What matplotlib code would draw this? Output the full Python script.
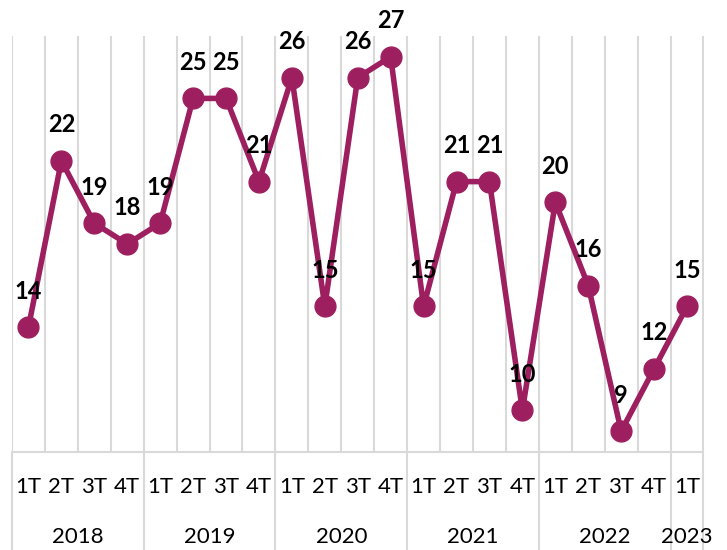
import numpy as np
import matplotlib.pyplot as plt
from matplotlib.transforms import blended_transform_factory

quarters = ["1T", "2T", "3T", "4T"] * 5 + ["1T"]
years = ["2018", "2019", "2020", "2021", "2022", "2023"]
year_sizes = [4, 4, 4, 4, 4, 1]
values = [14, 22, 19, 18, 19, 25, 25, 21, 26, 15, 26, 27, 15, 21, 21, 10, 20, 16, 9, 12, 15]

line_color = "#9e1f5f"
grid_color = "#d9d9d9"

plt.rcParams['font.family'] = ['Lato', 'DejaVu Sans']

fig = plt.figure(figsize=(7.27, 5.5), dpi=100)
ax = fig.add_axes([12 / 727, 98 / 550, (703.5 - 12) / 727, (452 - 36) / 550])

x = np.arange(len(values))
ax.plot(x, values, color=line_color, lw=4, marker="o", ms=15, zorder=3)
for xi, v in zip(x, values):
    ax.annotate(str(v), (xi, v), xytext=(0, 26), textcoords="offset points",
                ha="center", va="center", fontsize=17, fontweight="bold", color="black")

ax.set_xlim(-0.5, len(values) - 0.5)
ax.set_ylim(8, 28)
for b in np.arange(-0.5, len(values), 1):
    ax.axvline(b, color=grid_color, lw=1.5, zorder=0)

for s in ["top", "left", "right"]:
    ax.spines[s].set_visible(False)
ax.spines["bottom"].set_color(grid_color)
ax.spines["bottom"].set_linewidth(1.5)
ax.set_xticks([])
ax.set_yticks([])

trans = blended_transform_factory(ax.transData, fig.transFigure)
for xi, q in zip(x, quarters):
    ax.text(xi, (550 - 487) / 550, q, transform=trans, ha="center", va="center", fontsize=16)

start = 0
edges = [-0.5]
for yr, n in zip(years, year_sizes):
    center = start + (n - 1) / 2
    ax.text(center, (550 - 537) / 550, yr, transform=trans, ha="center", va="center", fontsize=16)
    start += n
    edges.append(start - 0.5)
for e in edges:
    ax.plot([e, e], [0, 98 / 550], transform=trans, color=grid_color, lw=1.5, clip_on=False)

fig.savefig("out.png", dpi=100)
